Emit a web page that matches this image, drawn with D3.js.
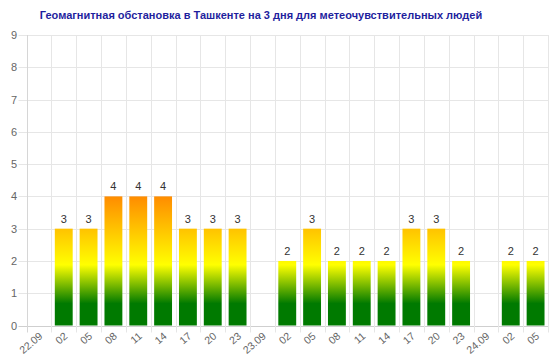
<!DOCTYPE html>
<html>
<head>
<meta charset="utf-8">
<script src="https://cdn.jsdelivr.net/npm/d3@7"></script>
<style>
  html, body { margin: 0; padding: 0; background: #fff; }
  svg { display: block; }
</style>
</head>
<body>
<svg id="chart" width="560" height="356"></svg>
<script>
const title = "Геомагнитная обстановка в Ташкенте на 3 дня для метеочувствительных людей";
const categories = ["22.09","02","05","08","11","14","17","20","23","23.09","02","05","08","11","14","17","20","23","24.09","02","05"];
const values = [null,3,3,4,4,4,3,3,3,null,2,3,2,2,2,3,3,2,null,2,2];
const yTicks = [0,1,2,3,4,5,6,7,8,9];

const svg = d3.select("#chart");
const W = 560, H = 356;
const m = {left: 26.5, right: 12, top: 35, bottom: 30.5};
const plotR = W - m.right, plotB = H - m.bottom;

const x = d3.scaleBand().domain(d3.range(categories.length)).range([m.left, plotR]).padding(0);
const y = d3.scaleLinear().domain([0, 9]).range([plotB, m.top]);

// gradient
const defs = svg.append("defs");
const grad = defs.append("linearGradient")
  .attr("id", "barGrad").attr("gradientUnits", "userSpaceOnUse")
  .attr("x1", 0).attr("x2", 0).attr("y1", y(0)).attr("y2", y(4));
[[0, "#007a00"], [0.17, "#007a00"], [0.47, "#ffff00"], [1, "#ff8c00"]].forEach(([o, c]) =>
  grad.append("stop").attr("offset", o).attr("stop-color", c));

// Title
svg.append("text")
  .attr("x", 261).attr("y", 18.5)
  .attr("text-anchor", "middle")
  .attr("font-family", "Liberation Sans, Arial, sans-serif")
  .attr("font-weight", "bold").attr("font-size", 11)
  .attr("fill", "#1f1f9e")
  .text(title);

// horizontal grid
svg.append("g").selectAll("line").data(yTicks).join("line")
  .attr("x1", m.left - 8).attr("x2", plotR)
  .attr("y1", d => Math.round(y(d)) + 0.5).attr("y2", d => Math.round(y(d)) + 0.5)
  .attr("stroke", d => d === 0 ? "#cfcfcf" : "#e6e6e6").attr("stroke-width", 1);

// vertical grid (between categories)
const vx = d3.range(categories.length + 1).map(i => m.left + i * x.step());
svg.append("g").selectAll("line").data(vx).join("line")
  .attr("x1", d => Math.round(d) + 0.5).attr("x2", d => Math.round(d) + 0.5)
  .attr("y1", m.top).attr("y2", plotB + 7)
  .attr("stroke", (d, i) => i === 0 ? "#d6d6d6" : "#e6e6e6").attr("stroke-width", 1);

// y axis labels
svg.append("g").selectAll("text").data(yTicks).join("text")
  .attr("x", 17).attr("y", d => y(d) + 4)
  .attr("text-anchor", "end")
  .attr("font-family", "Liberation Sans, Arial, sans-serif").attr("font-size", 11)
  .attr("fill", "#666")
  .text(d => d);

// bars
const bw = x.step() * 0.72;
const barData = values.map((v, i) => ({i, v})).filter(d => d.v !== null);
svg.append("g").selectAll("rect").data(barData).join("rect")
  .attr("x", d => x(d.i) + (x.step() - bw) / 2)
  .attr("width", bw)
  .attr("y", d => y(d.v))
  .attr("height", d => y(0) - y(d.v))
  .attr("fill", "url(#barGrad)");

// value labels
svg.append("g").selectAll("text").data(barData).join("text")
  .attr("x", d => x(d.i) + x.step() / 2)
  .attr("y", d => y(d.v) - 6)
  .attr("text-anchor", "middle")
  .attr("font-family", "Liberation Sans, Arial, sans-serif").attr("font-size", 11)
  .attr("fill", "#333")
  .text(d => d.v);

// x labels
svg.append("g").selectAll("text").data(categories).join("text")
  .attr("transform", (d, i) => `translate(${x(i) + x.step() / 2 + 2},${plotB + 9}) rotate(-40)`)
  .attr("text-anchor", "end")
  .attr("dy", "0.35em")
  .attr("font-family", "Liberation Sans, Arial, sans-serif").attr("font-size", 10.5)
  .attr("fill", "#666")
  .text(d => d);
</script>
</body>
</html>
